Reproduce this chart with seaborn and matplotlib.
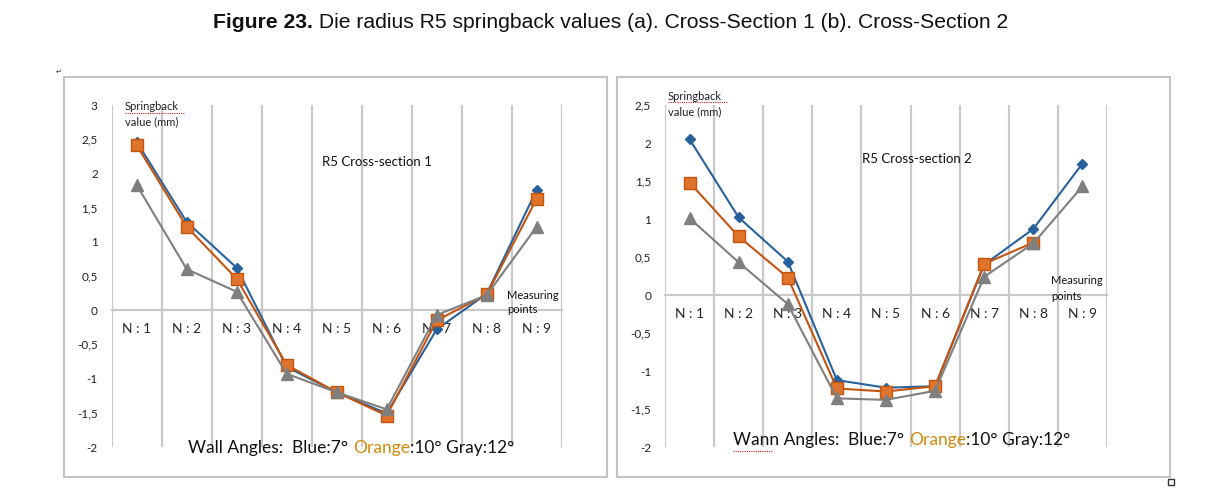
import numpy as np
import pandas as pd
import matplotlib
matplotlib.use("Agg")
import matplotlib.pyplot as plt
import seaborn as sns
from matplotlib.patches import Rectangle
from matplotlib.ticker import FixedLocator, FuncFormatter

# values (springback in mm, per measuring point)
points = ["N : 1", "N : 2", "N : 3", "N : 4", "N : 5", "N : 6", "N : 7", "N : 8", "N : 9"]
cs1_blue = [2.46, 1.29, 0.62, -0.83, -1.20, -1.51, -0.28, 0.24, 1.76]
cs1_orange = [2.41, 1.22, 0.46, -0.80, -1.20, -1.54, -0.15, 0.23, 1.63]
cs1_gray = [1.83, 0.60, 0.27, -0.93, -1.20, -1.45, -0.07, 0.22, 1.22]
cs2_blue = [2.05, 1.02, 0.44, -1.12, -1.22, -1.20, 0.40, 0.87, 1.73]
cs2_orange = [1.48, 0.77, 0.23, -1.23, -1.27, -1.20, 0.41, 0.69, np.nan]
cs2_gray = [1.01, 0.43, -0.12, -1.36, -1.38, -1.26, 0.24, 0.68, 1.43]

W, H = 1218, 498
BLUE = "#28619c"
ORANGE = "#c4540f"
ORANGE_FACE = "#e0742c"
GRAY = "#7f7f7f"
GRID = "#c9c9c9"
GOLD = "#d08a0c"

sns.set_style("white")
plt.rcParams["font.family"] = ["Lato", "DejaVu Sans"]


def px(x, y):
    # pixel position in the picture -> figure fraction
    return x / W, 1 - y / H


def comma_fmt(v, pos):
    return ("%g" % v).replace(".", ",")


def draw_panel(ax, blue, orange, gray, ylim):
    pos = np.arange(len(points))
    series = [
        (blue, BLUE, BLUE, "D", 5.5),
        (orange, ORANGE, ORANGE_FACE, "s", 8),
        (gray, GRAY, GRAY, "^", 8),
    ]
    for vals, col, face, mk, ms in series:
        df = pd.DataFrame({"pos": pos, "value": vals}).dropna()
        sns.lineplot(data=df, x="pos", y="value", ax=ax, color=col, lw=1.5,
                     marker=mk, markersize=ms, markerfacecolor=face,
                     markeredgecolor=col, markeredgewidth=1, zorder=3)
    ax.set_xlim(-0.5, len(points) - 0.5)
    ax.set_ylim(*ylim)
    ax.set_xticks(pos)
    ax.set_xticklabels(points, fontsize=8.5, color="#222222")
    ax.set_yticks(np.arange(ylim[0], ylim[1] + 0.01, 0.5))
    ax.yaxis.set_major_formatter(FuncFormatter(comma_fmt))
    ax.xaxis.set_minor_locator(FixedLocator(np.arange(-0.5, len(points), 1)))
    ax.grid(which="minor", axis="x", color=GRID, lw=1.6)
    ax.grid(which="major", visible=False)
    ax.tick_params(axis="both", which="both", length=0)
    ax.tick_params(axis="x", pad=9)
    ax.tick_params(axis="y", pad=10, labelsize=8.5, labelcolor="#222222")
    for s in ["top", "right", "left"]:
        ax.spines[s].set_visible(False)
    ax.spines["bottom"].set_position(("data", 0))
    ax.spines["bottom"].set_color(GRID)
    ax.spines["bottom"].set_linewidth(1.6)
    ax.set_xlabel("")
    ax.set_ylabel("")
    ax.set_facecolor("none")


def color_text(fig, x, y, parts, size):
    t = fig.text(x, y, parts[0][0], color=parts[0][1], fontsize=size,
                 ha="left", va="center")
    for s, c in parts[1:]:
        t = plt.annotate(s, xy=(1, 0), xycoords=t, va="bottom", ha="left",
                         color=c, fontsize=size, annotation_clip=False)
    return t


fig = plt.figure(figsize=(W / 100, H / 100), dpi=100)

# panel frames
for x0, x1 in [(64, 607), (617, 1170)]:
    fx, fy = px(x0, 477)
    fig.add_artist(Rectangle((fx, fy), (x1 - x0) / W, 400 / H, transform=fig.transFigure,
                             fill=False, edgecolor="#c4c4c4", lw=1.5))
fig.add_artist(Rectangle(px(1168, 485), 6 / W, 6 / H, transform=fig.transFigure,
                         fill=False, edgecolor="#333333", lw=1))
fig.text(*px(59, 72), "\u21b5", fontsize=5, ha="center", va="center",
         family="DejaVu Sans", color="#333333")

ax1 = fig.add_axes([111.7 / W, 1 - 447 / H, 450 / W, 342 / H])
ax2 = fig.add_axes([665 / W, 1 - 447 / H, 442 / W, 342 / H])
draw_panel(ax1, cs1_blue, cs1_orange, cs1_gray, (-2, 3))
draw_panel(ax2, cs2_blue, cs2_orange, cs2_gray, (-2, 2.5))

# title
tx, ty = px(213, 23)
title_font = ["Liberation Sans Narrow", "Liberation Sans", "DejaVu Sans"]
t = fig.text(tx, ty, "Figure 23.", fontsize=15.2, fontweight="bold", ha="left",
             va="center", family=title_font, color="#111111")
plt.annotate(" Die radius R5 springback values (a). Cross-Section 1 (b). Cross-Section 2",
             xy=(1, 0), xycoords=t, va="bottom", ha="left", fontsize=15.2,
             family=title_font, color="#111111", annotation_clip=False)

# annotations inside the charts
fig.text(*px(125, 107), "Springback", fontsize=8, ha="left", va="center", color="#222222")
fig.text(*px(125, 122), "value (mm)", fontsize=8, ha="left", va="center", color="#222222")
fig.text(*px(322, 162), "R5 Cross-section 1", fontsize=9.5, ha="left", va="center", color="#111111")
fig.text(*px(507, 295), "Measuring", fontsize=8, ha="left", va="center", color="#111111")
fig.text(*px(507, 309), "points", fontsize=8, ha="left", va="center", color="#111111")

fig.text(*px(668, 96), "Springback", fontsize=8, ha="left", va="center", color="#222222")
fig.text(*px(668, 112), "value (mm)", fontsize=8, ha="left", va="center", color="#222222")
fig.text(*px(862, 159), "R5 Cross-section 2", fontsize=9.5, ha="left", va="center", color="#111111")
fig.text(*px(1051, 280), "Measuring", fontsize=8, ha="left", va="center", color="#111111")
fig.text(*px(1051, 296), "points", fontsize=8, ha="left", va="center", color="#111111")

# spell-check squiggles
for x0, x1, y in [(125, 184, 113), (668, 727, 102), (733, 772, 451)]:
    fig.add_artist(plt.Line2D([x0 / W, x1 / W], [1 - y / H, 1 - y / H], transform=fig.transFigure,
                              color="#d02020", lw=0.8, ls=(0, (1, 1))))

legend_parts = [("Blue:7° ", "#111111"), ("Orange", GOLD), (":10° Gray:12°", "#111111")]
color_text(fig, *px(188, 448), [("Wall Angles:  ", "#111111")] + legend_parts, 12.5)
color_text(fig, *px(733, 440), [("Wann Angles:  ", "#111111")] + legend_parts, 12.5)

fig.savefig("out.png", dpi=100)
